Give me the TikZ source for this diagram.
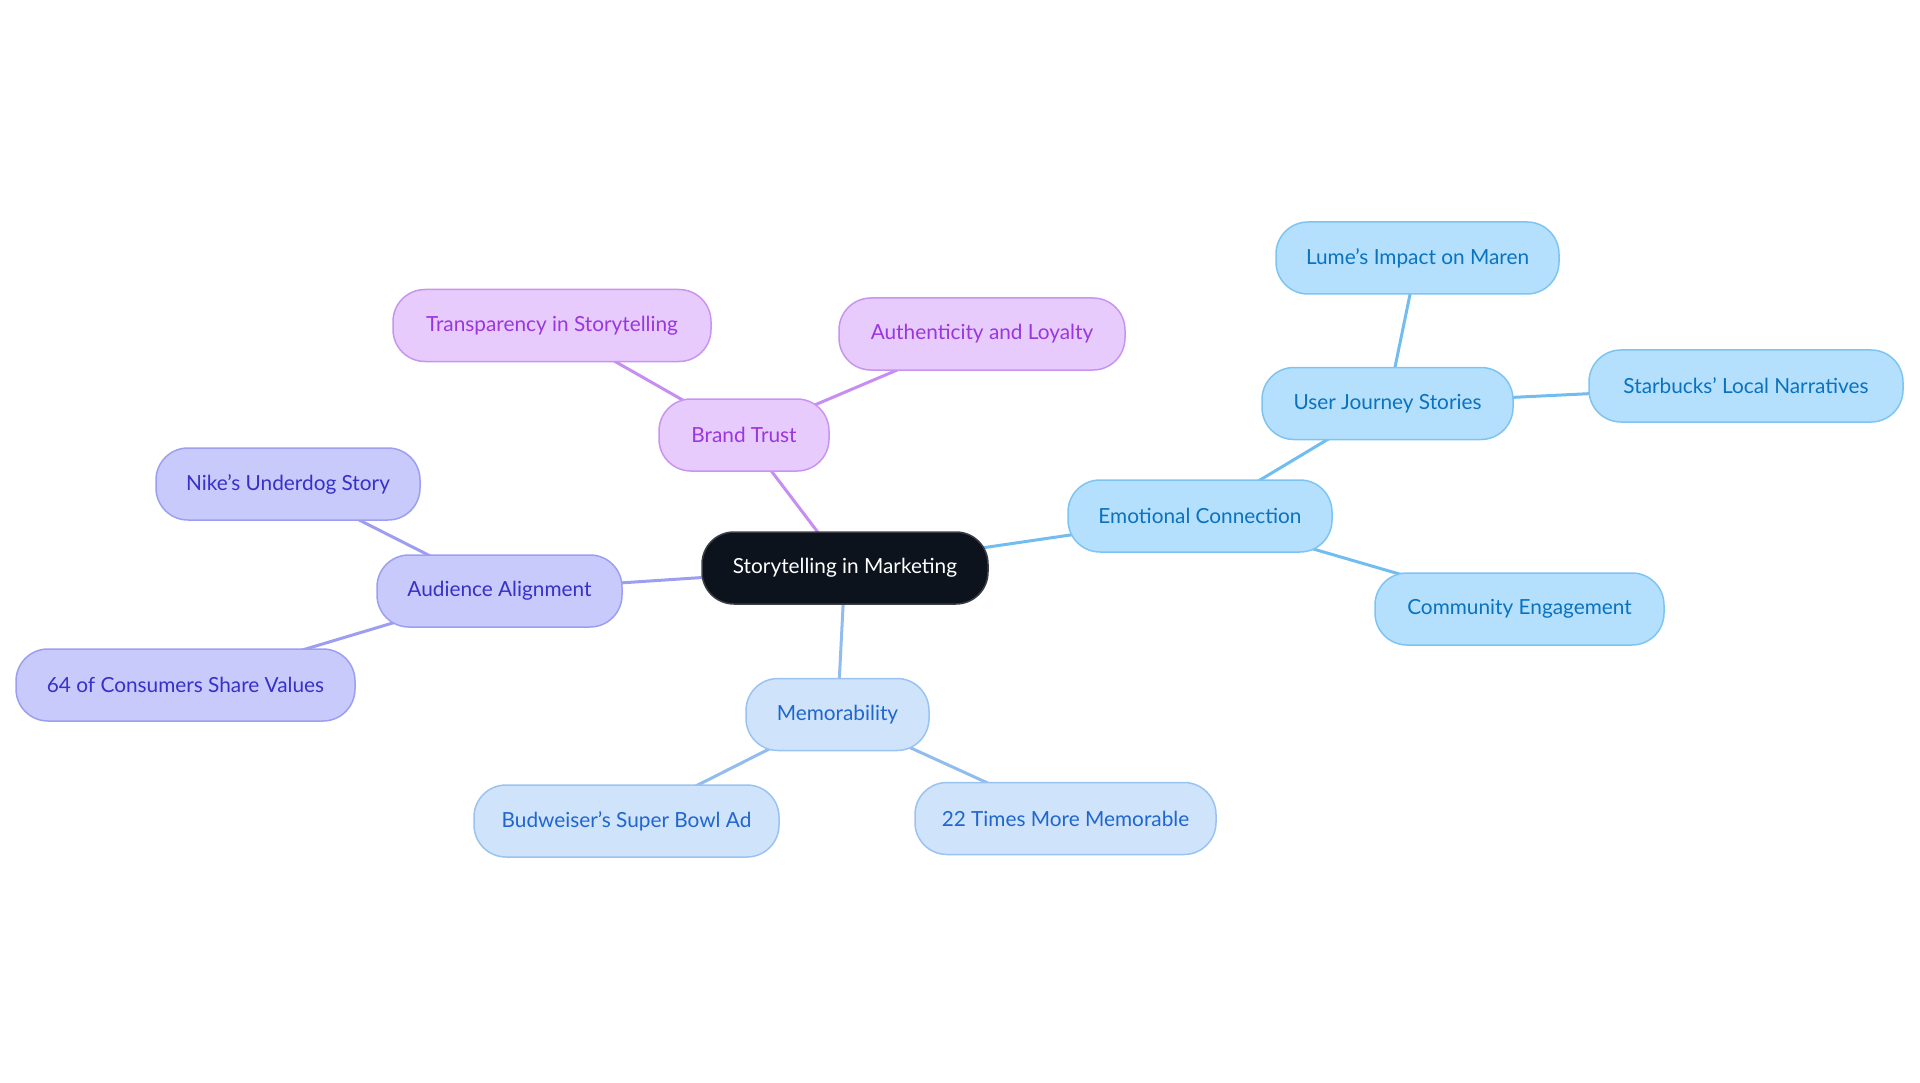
\documentclass[tikz,border=0pt]{standalone}
\usepackage{fontspec}
\setmainfont{Lato}
\usetikzlibrary{backgrounds}
\definecolor{rootfill}{HTML}{0D131C}
\definecolor{rootdraw}{HTML}{3A3F47}
\definecolor{pfill}{HTML}{E8CBFD}
\definecolor{pdraw}{HTML}{C994F0}
\definecolor{ptext}{HTML}{9A36E0}
\definecolor{pedge}{HTML}{C58EF0}
\definecolor{ifill}{HTML}{C8CAFB}
\definecolor{idraw}{HTML}{9C9EF2}
\definecolor{itext}{HTML}{3730C9}
\definecolor{iedge}{HTML}{9D9EF2}
\definecolor{mfill}{HTML}{CFE3FA}
\definecolor{mdraw}{HTML}{9AC3F2}
\definecolor{mtext}{HTML}{1F66CF}
\definecolor{medge}{HTML}{90BCEE}
\definecolor{sfill}{HTML}{B4E0FD}
\definecolor{sdraw}{HTML}{7EC4F2}
\definecolor{stext}{HTML}{0A72BF}
\definecolor{sedge}{HTML}{72BDEF}
\begin{document}
\begin{tikzpicture}[x=1pt,y=-1pt,
  font=\fontsize{20.8}{25}\selectfont,
  box/.style={draw, line width=1.5pt, rounded corners=32pt, minimum height=72pt, inner sep=0pt, anchor=center},
  rootbox/.style={box, fill=rootfill, draw=rootdraw, text=white},
  pbox/.style={box, fill=pfill, draw=pdraw, text=ptext},
  ibox/.style={box, fill=ifill, draw=idraw, text=itext},
  mbox/.style={box, fill=mfill, draw=mdraw, text=mtext},
  sbox/.style={box, fill=sfill, draw=sdraw, text=stext},
  edge/.style={line width=3pt},
]
\useasboundingbox (0,0) rectangle (1920,1083);
\node[rootbox, minimum width=286pt] (root) at (845,568) {Storytelling in Marketing};
\node[pbox, minimum width=170pt] (bt) at (744,435) {Brand Trust};
\node[pbox, minimum width=318pt] (tr) at (552,325.5) {Transparency in Storytelling};
\node[pbox, minimum width=286pt] (au) at (982,334) {Authenticity and Loyalty};
\node[ibox, minimum width=245pt] (aa) at (499.5,591) {Audience Alignment};
\node[ibox, minimum width=264pt] (nk) at (288,484) {Nike’s Underdog Story};
\node[ibox, minimum width=339pt] (cs) at (185.5,685) {64 of Consumers Share Values};
\node[mbox, minimum width=183pt] (me) at (837.5,714.5) {Memorability};
\node[mbox, minimum width=305pt] (bw) at (626.5,821) {Budweiser’s Super Bowl Ad};
\node[mbox, minimum width=301pt] (tt) at (1065.5,818.5) {22 Times More Memorable};
\node[sbox, minimum width=264pt] (ec) at (1200,516) {Emotional Connection};
\node[sbox, minimum width=251pt] (uj) at (1387.5,403.5) {User Journey Stories};
\node[sbox, minimum width=283pt] (lm) at (1417.5,258) {Lume’s Impact on Maren};
\node[sbox, minimum width=314pt] (sb) at (1746,386) {Starbucks’ Local Narratives};
\node[sbox, minimum width=289pt] (ce) at (1519.5,609) {Community Engagement};
\begin{scope}[on background layer]
\draw[edge, pedge] (root.center) -- (bt.center);
\draw[edge, pedge] (bt.center) -- (tr.center);
\draw[edge, pedge] (bt.center) -- (au.center);
\draw[edge, iedge] (root.center) -- (aa.center);
\draw[edge, iedge] (aa.center) -- (nk.center);
\draw[edge, iedge] (aa.center) -- (cs.center);
\draw[edge, medge] (root.center) -- (me.center);
\draw[edge, medge] (me.center) -- (bw.center);
\draw[edge, medge] (me.center) -- (tt.center);
\draw[edge, sedge] (root.center) -- (ec.center);
\draw[edge, sedge] (ec.center) -- (uj.center);
\draw[edge, sedge] (uj.center) -- (lm.center);
\draw[edge, sedge] (uj.center) -- (sb.center);
\draw[edge, sedge] (ec.center) -- (ce.center);
\end{scope}
\end{tikzpicture}
\end{document}
